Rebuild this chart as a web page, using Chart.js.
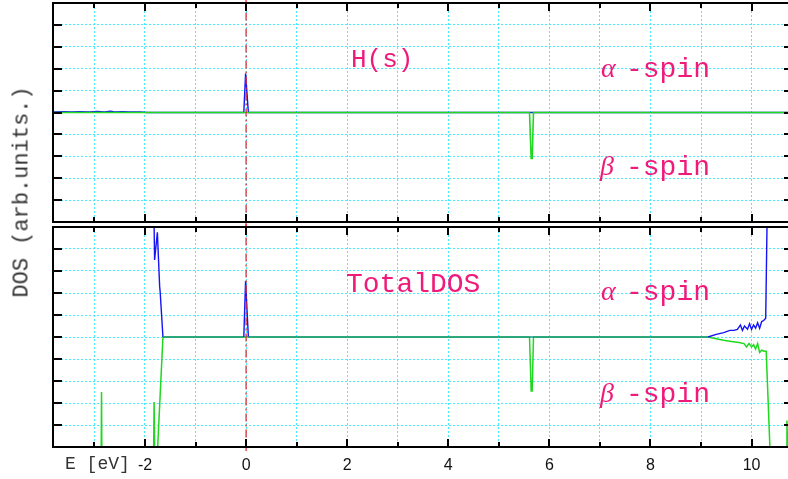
<!DOCTYPE html>
<html>
<head>
<meta charset="utf-8">
<script src="https://cdn.jsdelivr.net/npm/chart.js@4.4.1/dist/chart.umd.min.js"></script>
<style>
  html, body { margin: 0; padding: 0; background: #fff; overflow: hidden; }
  #wrap { position: relative; width: 788px; height: 479px; overflow: hidden; background: #fff; }
  canvas { position: absolute; left: 0; }
  #topCanvas { top: 0; }
  #botCanvas { top: 224px; }
  .ylabel {
    position: absolute; left: 22px; top: 192px;
    transform: translate(-50%, -50%) rotate(-90deg);
    font: 22px "Liberation Mono", monospace; color: #333; white-space: nowrap;
  }
  .xlabel {
    position: absolute; left: 65px; top: 454px; line-height: 18px;
    font: 18px "Liberation Mono", monospace; color: #333; white-space: nowrap;
  }
</style>
</head>
<body>
<div id="wrap">
  <canvas id="topCanvas" width="800" height="226"></canvas>
  <canvas id="botCanvas" width="800" height="255"></canvas>
  <div class="ylabel">DOS (arb.units.)</div>
  <div class="xlabel">E [eV]</div>
</div>
<script>
// energy window and tick labels
const xMin = -3.82;
const xMax = 10.82;
const yMin = -5;
const yMax = 5;
const xTickLabels = ['-2', '0', '2', '4', '6', '8', '10'];

// H(s) projected DOS
const hsAlphaE = [-3.82, -3.6, -3.45, -3.3, -3.1, -2.95, -2.8, -2.68, -2.6, -2.45, -2.3, -2.1, -1.95, -0.045, -0.01, 0.045, 10.82];
const hsAlpha  = [0.03, 0.04, 0.02, 0.04, 0.03, 0.05, 0.03, 0.06, 0.03, 0.04, 0.03, 0.02, 0, 0, 1.78, 0, 0];
const hsBetaE  = [-3.82, 5.607, 5.64, 5.66, 5.686, 10.82];
const hsBeta   = [0, 0, -2.1, -2.1, 0, 0];

// total DOS (values past +-5 run off the panel)
const totAlphaE = [-3.82, -1.845, -1.81, -1.755, -1.71, -1.70, -1.645, -0.045, -0.01, 0.045, 9.14, 9.3, 9.45, 9.57, 9.65, 9.72, 9.78, 9.82, 9.86, 9.92, 9.96, 10.0, 10.04, 10.08, 10.12, 10.16, 10.2, 10.24, 10.28, 10.33, 10.82];
const totAlpha  = [9, 9, 3.5, 4.76, 2.3, 2.06, 0, 0, 2.55, 0, 0, 0.12, 0.2, 0.3, 0.3, 0.35, 0.55, 0.3, 0.5, 0.35, 0.6, 0.35, 0.55, 0.4, 0.65, 0.4, 0.7, 0.75, 0.85, 9, 9];
const totBetaE  = [-3.82, -2.875, -2.86, -2.845, -1.845, -1.82, -1.79, -1.77, -1.645, 5.607, 5.64, 5.66, 5.686, 9.14, 9.3, 9.45, 9.6, 9.75, 9.85, 9.9, 9.95, 10.0, 10.04, 10.08, 10.12, 10.16, 10.2, 10.25, 10.29, 10.38, 10.69, 10.70, 10.75, 10.82];
const totBeta   = [-9, -9, -2.5, -9, -9, -2.95, -9, -6, 0, 0, -2.45, -2.45, 0, 0, -0.08, -0.15, -0.2, -0.25, -0.3, -0.45, -0.3, -0.45, -0.35, -0.55, -0.3, -0.7, -0.6, -0.65, -0.65, -6, -9, -3.8, -9, -9];

// Fermi level marker
const fermiE = [0, 0];
const fermiDos = [-5.3, 5.3];

const gridColor = 'rgb(70, 234, 250)';
const pink = '#ef1a7a';
const blue = '#1414f5';
const green = '#1fd81f';
const overlap = 'rgb(34, 150, 138)';

function pts(xs, ys) {
    return xs.map((x, i) => ({ x: x, y: ys[i] }));
}

// frame, inward tick marks and panel labels
const framePlugin = {
    id: 'frame',
    afterDraw(chart, args, opts) {
        const { ctx, chartArea: a } = chart;
        const x = chart.scales.x, y = chart.scales.y;
        ctx.save();
        ctx.strokeStyle = '#000';
        ctx.lineWidth = 2;
        ctx.beginPath();
        x.ticks.forEach(t => {
            const px = Math.round(x.getPixelForValue(t.value));
            const len = t.value % 2 === 0 ? 8 : 5;
            ctx.moveTo(px, a.top); ctx.lineTo(px, a.top + len);
            ctx.moveTo(px, a.bottom); ctx.lineTo(px, a.bottom - len);
        });
        y.ticks.forEach(t => {
            const py = Math.round(y.getPixelForValue(t.value));
            ctx.moveTo(a.left, py); ctx.lineTo(a.left + 9, py);
            ctx.moveTo(a.right, py); ctx.lineTo(a.right - 9, py);
        });
        ctx.stroke();
        ctx.strokeRect(a.left, a.top, a.right - a.left, a.bottom - a.top);

        ctx.fillStyle = pink;
        ctx.textBaseline = 'alphabetic';
        ctx.textAlign = 'left';
        (opts.labels || []).forEach(l => {
            l.parts.forEach(p => {
                ctx.font = p.font;
                ctx.fillText(p.text, p.x, l.y);
            });
        });
        ctx.restore();
    }
};

const mono28 = '28px "Liberation Mono", monospace';
const mono26 = '26px "Liberation Mono", monospace';
const greek28 = 'italic 28px "Liberation Serif", serif';

function spinLabels(alphaY, betaY) {
    return [
        { y: alphaY, parts: [{ text: 'α', font: greek28, x: 601 }, { text: '-spin', font: mono28, x: 626 }] },
        { y: betaY, parts: [{ text: 'β', font: greek28, x: 600 }, { text: '-spin', font: mono28, x: 626 }] }
    ];
}

function panelOptions(showTicks, labels) {
    return {
        responsive: false,
        animation: false,
        devicePixelRatio: 1,
        layout: { padding: { left: 53, right: 7, top: 3, bottom: showTicks ? 0 : 4 } },
        plugins: {
            legend: { display: false },
            tooltip: { enabled: false },
            frame: { labels: labels }
        },
        elements: { point: { radius: 0 }, line: { tension: 0 } },
        scales: {
            x: {
                type: 'linear',
                min: xMin,
                max: xMax,
                border: { display: false, dash: [2, 2] },
                grid: { color: gridColor, lineWidth: 1, drawTicks: false },
                ticks: {
                    display: showTicks,
                    stepSize: 1,
                    includeBounds: false,
                    autoSkip: false,
                    maxRotation: 0,
                    padding: 9,
                    color: '#111',
                    font: { family: '"Liberation Sans", Arial, sans-serif', size: 16 },
                    callback: v => xTickLabels.includes(String(v)) ? String(v) : ''
                },
                afterFit: s => { s.height = showTicks ? 32 : 0; }
            },
            y: {
                type: 'linear',
                min: yMin,
                max: yMax,
                border: { display: false, dash: [2, 2] },
                grid: { color: gridColor, lineWidth: 1, drawTicks: false },
                ticks: { display: false, stepSize: 1 },
                afterFit: s => { s.width = 0; }
            }
        }
    };
}

function fermiSet() {
    return {
        data: pts(fermiE, fermiDos),
        borderColor: 'rgba(236, 40, 40, 0.85)',
        borderWidth: 1.5,
        borderDash: [8, 3, 2, 3],
        clip: 4,
        order: 0
    };
}

// upper panel: H(s)
new Chart(document.getElementById('topCanvas'), {
    type: 'line',
    data: {
        datasets: [
            fermiSet(),
            { data: pts(hsBetaE, hsBeta), borderColor: green, borderWidth: 1.6, order: 1 },
            { data: pts(hsAlphaE, hsAlpha), borderColor: blue, borderWidth: 1.4, order: 2 }
        ]
    },
    options: panelOptions(false, [{ y: 67, parts: [{ text: 'H(s)', font: mono26, x: 351 }] }].concat(spinLabels(77, 175))),
    plugins: [framePlugin]
});

// lower panel: total DOS, where both spins sit on zero the line looks teal
new Chart(document.getElementById('botCanvas'), {
    type: 'line',
    data: {
        datasets: [
            fermiSet(),
            {
                data: pts(totAlphaE, totAlpha),
                borderColor: blue,
                borderWidth: 1.4,
                order: 1,
                segment: {
                    borderColor: c => (c.p0.parsed.y === 0 && c.p1.parsed.y === 0) ? overlap : undefined
                }
            },
            { data: pts(totBetaE, totBeta), borderColor: green, borderWidth: 1.5, order: 2 }
        ]
    },
    options: panelOptions(true, [{ y: 68, parts: [{ text: 'TotalDOS', font: mono28, x: 346 }] }].concat(spinLabels(76, 178))),
    plugins: [framePlugin]
});
</script>
</body>
</html>
